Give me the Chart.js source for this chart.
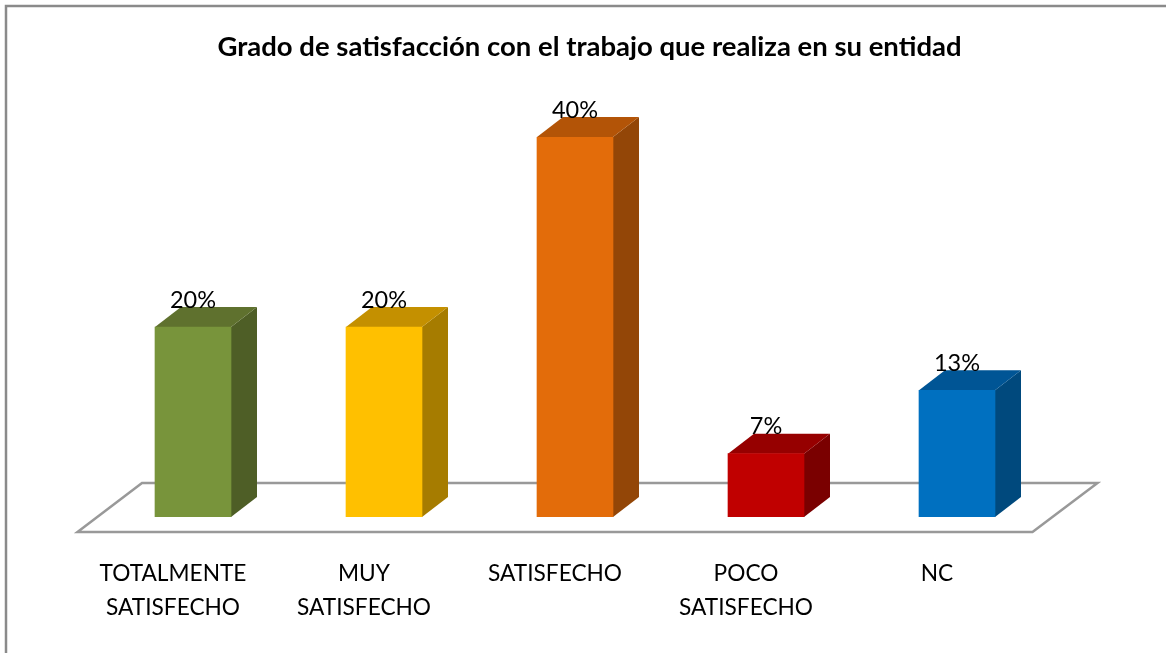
<!DOCTYPE html>
<html>
<head>
<meta charset="utf-8">
<style>html,body{margin:0;padding:0;background:#fff;overflow:hidden}canvas{display:block}</style>
<script src="https://cdn.jsdelivr.net/npm/chart.js@4/dist/chart.umd.min.js"></script>
</head>
<body>
<canvas id="c" width="1166" height="653"></canvas>
<script>
const chartTitle = 'Grado de satisfacción con el trabajo que realiza en su entidad';
const categories = [['TOTALMENTE','SATISFECHO'],['MUY','SATISFECHO'],'SATISFECHO',['POCO','SATISFECHO'],'NC'];
const values = [20, 20, 40, 6.67, 13.33];
const frontColors = ['#78943B','#FFC000','#E36C0A','#C00000','#0070C0'];
const sideColors  = ['#4E5E26','#A67C00','#934607','#7A0000','#00497D'];
const topColors   = ['#5F712E','#C49000','#B35407','#960000','#005595'];
const FONT = 'Lato, Carlito, sans-serif';

const poly = (ctx, pts, fill) => {
  ctx.beginPath();
  pts.forEach((p, i) => i ? ctx.lineTo(p[0], p[1]) : ctx.moveTo(p[0], p[1]));
  ctx.closePath();
  ctx.fillStyle = fill;
  ctx.fill();
};

const frame3d = {
  id: 'frame3d',
  afterLayout(chart) {
    // the title sits to the right of the plot's centre in the reference
    chart.titleBlock.left += 14.5;
    chart.titleBlock.right += 14.5;
  },
  beforeDraw(chart) {
    const ctx = chart.ctx;
    ctx.save();
    ctx.fillStyle = '#fff';
    ctx.fillRect(0, 0, chart.width, chart.height);
    ctx.strokeStyle = '#8A8A8A';
    ctx.lineWidth = 2.5;
    ctx.beginPath();
    ctx.moveTo(6, chart.height);
    ctx.lineTo(6, 6);
    ctx.lineTo(chart.width, 6);
    ctx.stroke();
    ctx.restore();
  },
  beforeDatasetsDraw(chart) {
    const ctx = chart.ctx, a = chart.chartArea;
    const base = chart.scales.y.getPixelForValue(0);
    ctx.save();
    ctx.strokeStyle = '#999999';
    ctx.lineWidth = 2.5;
    ctx.beginPath();
    ctx.moveTo(a.left - 20, base + 15);
    ctx.lineTo(a.right - 20, base + 15);
    ctx.lineTo(a.right + 45, base - 34);
    ctx.lineTo(a.left + 44.5, base - 34);
    ctx.closePath();
    ctx.stroke();
    const dx = 26, dy = -20;
    chart.getDatasetMeta(0).data.forEach((bar, i) => {
      const l = bar.x - bar.width / 2, r = bar.x + bar.width / 2, t = bar.y;
      poly(ctx, [[r, t], [r + dx, t + dy], [r + dx, base + dy], [r, base]], sideColors[i]);
      poly(ctx, [[l, t], [l + dx, t + dy], [r + dx, t + dy], [r, t]], topColors[i]);
    });
    ctx.restore();
  },
  afterDatasetsDraw(chart) {
    const ctx = chart.ctx;
    ctx.save();
    ctx.fillStyle = '#000';
    ctx.font = '23.5px ' + FONT;
    ctx.textAlign = 'center';
    ctx.textBaseline = 'middle';
    chart.getDatasetMeta(0).data.forEach((bar, i) => {
      ctx.fillText(Math.round(values[i]) + '%', bar.x, bar.y - 27);
    });
    ctx.restore();
  }
};

new Chart(document.getElementById('c'), {
  type: 'bar',
  data: {
    labels: categories,
    datasets: [{ data: values, backgroundColor: frontColors, barThickness: 76, borderWidth: 0 }]
  },
  plugins: [frame3d],
  options: {
    responsive: false,
    animation: false,
    layout: { padding: { left: 97.5, right: 113.5, top: 0, bottom: 0 } },
    plugins: {
      legend: { display: false },
      tooltip: { enabled: false },
      title: {
        display: true,
        text: chartTitle,
        color: '#000',
        font: { family: FONT, size: 27.5, weight: 'bold', lineHeight: 1.2 },
        padding: { top: 31, bottom: 73 }
      }
    },
    scales: {
      y: { display: false, min: 0, max: 40 },
      x: {
        offset: true,
        grid: { display: false },
        border: { display: false },
        afterFit(s) { s.height = 136; },
        ticks: {
          color: '#000',
          font: { family: FONT, size: 22.7, lineHeight: 1.5 },
          labelOffset: -20,
          padding: 32,
          maxRotation: 0,
          minRotation: 0,
          autoSkip: false
        }
      }
    }
  }
});
</script>
</body>
</html>
